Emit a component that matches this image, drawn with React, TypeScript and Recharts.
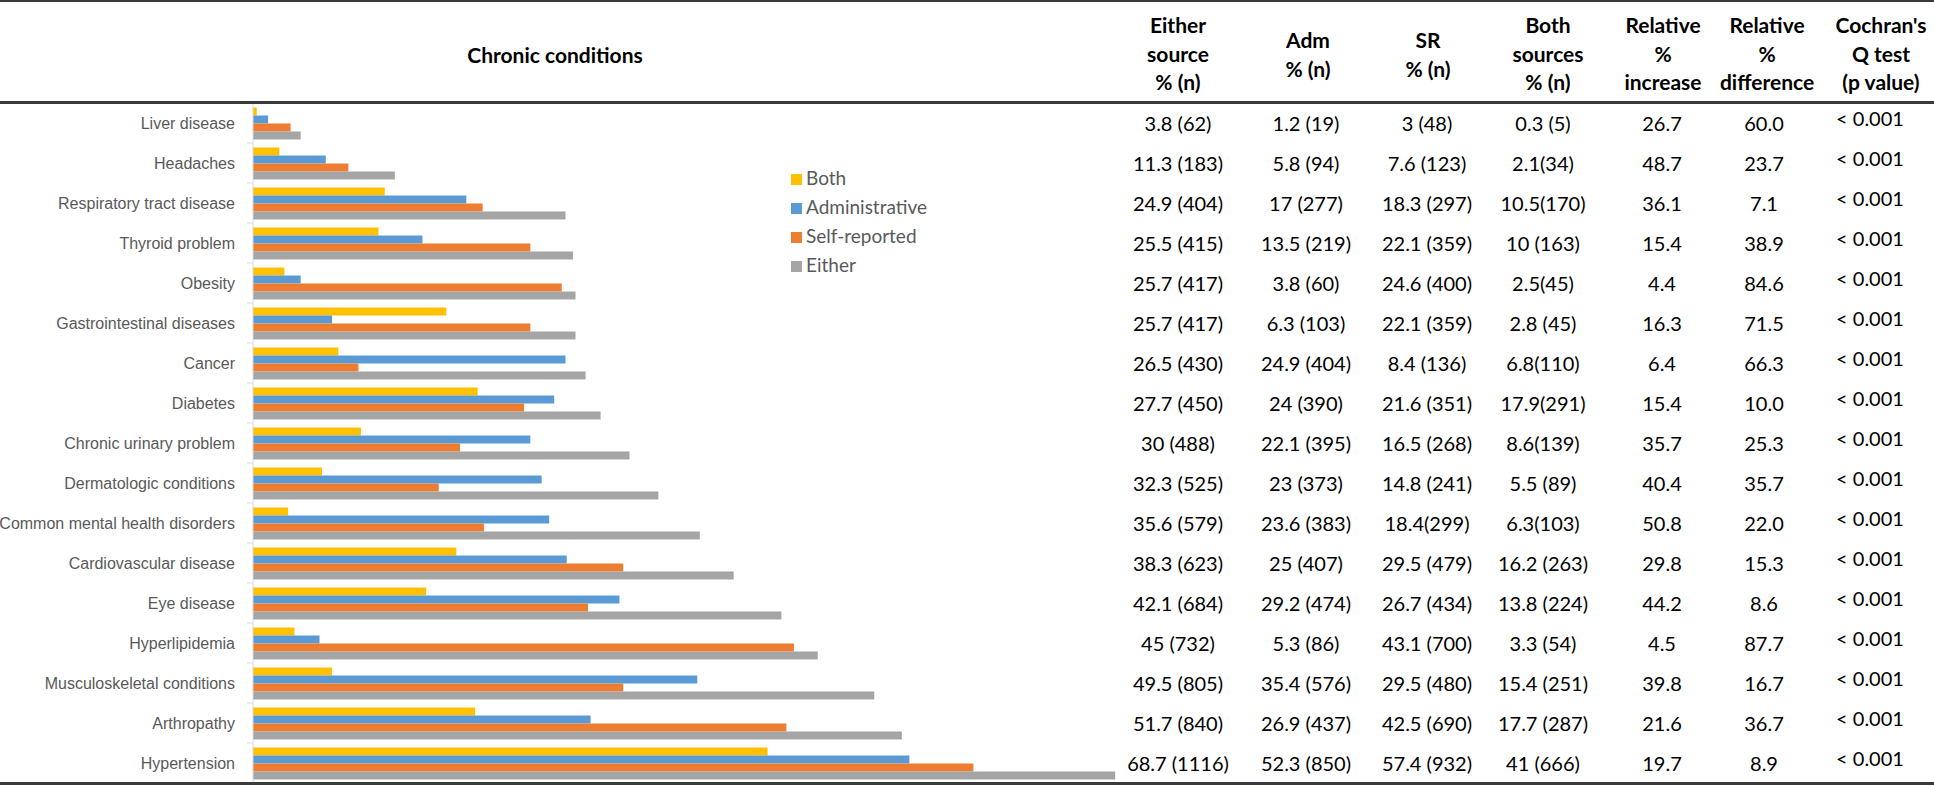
import React from "react";
import { BarChart, Bar, XAxis, YAxis, Legend } from "recharts";

// chart rows, top to bottom
const conditions = [
  "Liver disease",
  "Headaches",
  "Respiratory tract disease",
  "Thyroid problem",
  "Obesity",
  "Gastrointestinal diseases",
  "Cancer",
  "Diabetes",
  "Chronic urinary problem",
  "Dermatologic conditions",
  "Common mental health disorders",
  "Cardiovascular disease",
  "Eye disease",
  "Hyperlipidemia",
  "Musculoskeletal conditions",
  "Arthropathy",
  "Hypertension",
];

// bar lengths (%), as drawn
const bothPct = [0.3, 2.1, 10.5, 10, 2.5, 15.4, 6.8, 17.9, 8.6, 5.5, 2.8, 16.2, 13.8, 3.3, 6.3, 17.7, 41];
const admPct = [1.2, 5.8, 17, 13.5, 3.8, 6.3, 24.9, 24, 22.1, 23, 23.6, 25, 29.2, 5.3, 35.4, 26.9, 52.3];
const srPct = [3, 7.6, 18.3, 22.1, 24.6, 22.1, 8.4, 21.6, 16.5, 14.8, 18.4, 29.5, 26.7, 43.1, 29.5, 42.5, 57.4];
const eitherPct = [3.8, 11.3, 24.9, 25.5, 25.7, 25.7, 26.5, 27.7, 30, 32.3, 35.6, 38.3, 42.1, 45, 49.5, 51.7, 68.7];

const seriesNames = ["Both", "Administrative", "Self-reported", "Either"];

// table cells
const eitherCells = ["3.8 (62)", "11.3 (183)", "24.9 (404)", "25.5 (415)", "25.7 (417)", "25.7 (417)", "26.5 (430)", "27.7 (450)", "30 (488)", "32.3 (525)", "35.6 (579)", "38.3 (623)", "42.1 (684)", "45 (732)", "49.5 (805)", "51.7 (840)", "68.7 (1116)"];
const admCells = ["1.2 (19)", "5.8 (94)", "17 (277)", "13.5 (219)", "3.8 (60)", "6.3 (103)", "24.9 (404)", "24 (390)", "22.1 (395)", "23 (373)", "23.6 (383)", "25 (407)", "29.2 (474)", "5.3 (86)", "35.4 (576)", "26.9 (437)", "52.3 (850)"];
const srCells = ["3 (48)", "7.6 (123)", "18.3 (297)", "22.1 (359)", "24.6 (400)", "22.1 (359)", "8.4 (136)", "21.6 (351)", "16.5 (268)", "14.8 (241)", "18.4(299)", "29.5 (479)", "26.7 (434)", "43.1 (700)", "29.5 (480)", "42.5 (690)", "57.4 (932)"];
const bothCells = ["0.3 (5)", "2.1(34)", "10.5(170)", "10 (163)", "2.5(45)", "2.8 (45)", "6.8(110)", "17.9(291)", "8.6(139)", "5.5 (89)", "6.3(103)", "16.2 (263)", "13.8 (224)", "3.3 (54)", "15.4 (251)", "17.7 (287)", "41 (666)"];
const relIncrease = ["26.7", "48.7", "36.1", "15.4", "4.4", "16.3", "6.4", "15.4", "35.7", "40.4", "50.8", "29.8", "44.2", "4.5", "39.8", "21.6", "19.7"];
const relDifference = ["60.0", "23.7", "7.1", "38.9", "84.6", "71.5", "66.3", "10.0", "25.3", "35.7", "22.0", "15.3", "8.6", "87.7", "16.7", "36.7", "8.9"];
const pValues = ["< 0.001", "< 0.001", "< 0.001", "< 0.001", "< 0.001", "< 0.001", "< 0.001", "< 0.001", "< 0.001", "< 0.001", "< 0.001", "< 0.001", "< 0.001", "< 0.001", "< 0.001", "< 0.001", "< 0.001"];

const headers = [
  ["Either", "source", "% (n)"],
  ["Adm", "% (n)"],
  ["SR", "% (n)"],
  ["Both", "sources", "% (n)"],
  ["Relative", "%", "increase"],
  ["Relative", "%", "difference"],
  ["Cochran's", "Q test", "(p value)"],
];

const W = 1934;
const H = 786;
const TOP = 103;
const BOTTOM = 783;
const band = (BOTTOM - TOP) / conditions.length;

const columns = [
  { x: 1178, cells: eitherCells, hx: 1178 },
  { x: 1306, cells: admCells, hx: 1308 },
  { x: 1427, cells: srCells, hx: 1428 },
  { x: 1543, cells: bothCells, hx: 1548 },
  { x: 1662, cells: relIncrease, hx: 1663 },
  { x: 1764, cells: relDifference, hx: 1767 },
  { x: 1870, cells: pValues, hx: 1881, lift: -5 },
];

const data = conditions.map((name, i) => ({
  name,
  both: bothPct[i],
  adm: admPct[i],
  sr: srPct[i],
  either: eitherPct[i],
}));

const renderTick = (props: any) => {
  const { x, y, payload } = props;
  return (
    <g>
      <text
        x={x - 18}
        y={y}
        dy="0.36em"
        textAnchor="end"
        fill="#595959"
        fontFamily="'Liberation Sans', Arial, sans-serif"
        fontSize={16}
      >
        {payload.value}
      </text>
      <line x1={x - 6} x2={x} y1={y + band / 2} y2={y + band / 2} stroke="#d9d9d9" />
    </g>
  );
};

const rule = (top: number, h: number) => (
  <div style={{ position: "absolute", left: 0, top, width: W, height: h, background: "#3a3a3a" }} />
);

export default function App() {
  return (
    <div
      style={{
        position: "absolute",
        left: 0,
        top: 0,
        width: W,
        height: H,
        background: "#fff",
        overflow: "hidden",
        fontFamily: "Lato, 'Open Sans', sans-serif",
      }}
    >
      <div style={{ position: "absolute", left: 0, top: 0 }}>
        <BarChart
          width={1140}
          height={H}
          layout="vertical"
          data={data}
          margin={{ top: TOP, right: 8.5, bottom: H - BOTTOM, left: 0 }}
          barCategoryGap={4.5}
          barGap={0}
        >
          <XAxis type="number" domain={[0, 70]} hide />
          <YAxis
            type="category"
            dataKey="name"
            width={253}
            axisLine={{ stroke: "#d9d9d9" }}
            tickLine={false}
            tickSize={0}
            tickMargin={0}
            interval={0}
            tick={renderTick}
          />
          <Legend
            layout="vertical"
            align="center"
            verticalAlign="middle"
            iconType="square"
            iconSize={11}
            itemSorter={(item: any) => seriesNames.indexOf(item.value)}
            wrapperStyle={{ left: 791, top: 162.5, width: 220, lineHeight: "29px", fontFamily: "Lato", fontSize: 19 }}
            formatter={(v: string) => <span style={{ color: "#595959" }}>{v}</span>}
          />
          <Bar dataKey="both" name={seriesNames[0]} fill="#FFC000" isAnimationActive={false} />
          <Bar dataKey="adm" name={seriesNames[1]} fill="#5B9BD5" isAnimationActive={false} />
          <Bar dataKey="sr" name={seriesNames[2]} fill="#ED7D31" isAnimationActive={false} />
          <Bar dataKey="either" name={seriesNames[3]} fill="#A5A5A5" isAnimationActive={false} />
        </BarChart>
      </div>

      {rule(0, 2)}
      {rule(101, 3)}
      {rule(782, 3)}

      <div
        style={{
          position: "absolute",
          left: 555,
          top: 54,
          transform: "translate(-50%, -50%)",
          fontWeight: 700,
          fontSize: 21,
          color: "#000",
          whiteSpace: "nowrap",
        }}
      >
        Chronic conditions
      </div>

      {headers.map((lines, c) => (
        <div
          key={"h" + c}
          style={{
            position: "absolute",
            left: columns[c].hx,
            top: 54,
            transform: "translate(-50%, -50%)",
            fontWeight: 700,
            fontSize: 21,
            lineHeight: "28.5px",
            color: "#000",
            textAlign: "center",
            whiteSpace: "nowrap",
          }}
        >
          {lines.map((l, k) => (
            <div key={k}>{l}</div>
          ))}
        </div>
      ))}

      {columns.map((col, c) =>
        col.cells.map((txt, i) => (
          <div
            key={c + "-" + i}
            style={{
              position: "absolute",
              left: col.x,
              top: TOP + band * (i + 0.5) + (col.lift || 0),
              transform: "translate(-50%, -50%)",
              fontSize: 20,
              color: "#000",
              whiteSpace: "nowrap",
            }}
          >
            {txt}
          </div>
        ))
      )}
    </div>
  );
}
